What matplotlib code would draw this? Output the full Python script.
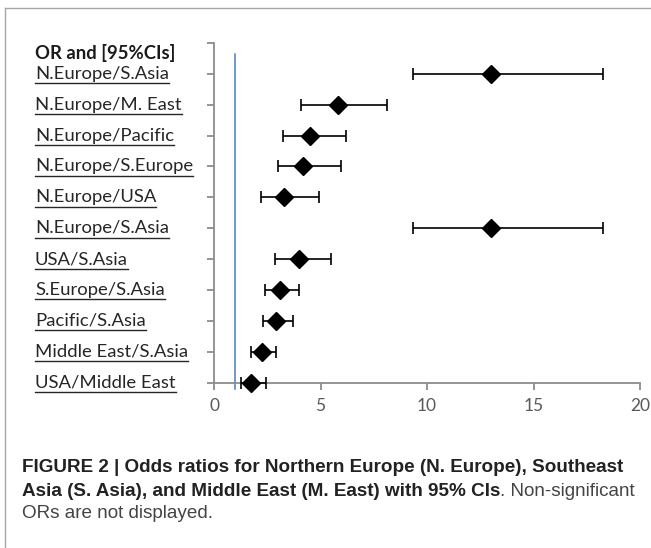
import matplotlib.pyplot as plt
from matplotlib.lines import Line2D

# ------------------------------------------------------------
# data (top to bottom)
# ------------------------------------------------------------
labels = ["N.Europe/S.Asia", "N.Europe/M. East", "N.Europe/Pacific",
          "N.Europe/S.Europe", "N.Europe/USA", "N.Europe/S.Asia",
          "USA/S.Asia", "S.Europe/S.Asia", "Pacific/S.Asia",
          "Middle East/S.Asia", "USA/Middle East"]
odds  = [13.0, 5.8, 4.5, 4.2, 3.3, 13.0, 4.0, 3.1, 2.9, 2.25, 1.75]
lower = [9.35, 4.1, 3.25, 3.0, 2.2, 9.35, 2.85, 2.4, 2.3, 1.75, 1.25]
upper = [18.25, 8.1, 6.2, 5.95, 4.95, 18.25, 5.5, 4.0, 3.7, 2.9, 2.45]
header = "OR and [95%CIs]"
xticks = [0, 5, 10, 15, 20]
ref_x = 1.0
ref_y = [-0.2, 10.65]

n = len(labels)
ypos = [n - 1 - i for i in range(n)]

W, H = 651, 548
fig = plt.figure(figsize=(W / 100, H / 100), dpi=100)

# outer frame (top and left edges)
fig.add_artist(Line2D([5 / W, 1], [1 - 8 / H, 1 - 8 / H], color="#a6a6a6", lw=1))
fig.add_artist(Line2D([5 / W, 5 / W], [0, 1 - 8 / H], color="#a6a6a6", lw=1))

ax = fig.add_axes([214 / W, 1 - 382.5 / H, (640 - 214) / W, (382.5 - 43) / H])
ax.set_xlim(0, 20)
ax.set_ylim(0, n)

ax.plot([ref_x, ref_x], ref_y, color="#4a7ebb", lw=1.1, clip_on=False)

err = [[o - l for o, l in zip(odds, lower)], [u - o for o, u in zip(odds, upper)]]
ax.errorbar(odds, ypos, xerr=err, fmt="D", color="black", ms=9,
            ecolor="black", elinewidth=1.2, capsize=4.5, capthick=1.2,
            clip_on=False, zorder=3)

gray = "#8c8c8c"
for s in ["top", "right"]:
    ax.spines[s].set_visible(False)
for s in ["left", "bottom"]:
    ax.spines[s].set_color(gray)
    ax.spines[s].set_linewidth(1.3)
ax.set_yticks(range(n + 1))
ax.set_yticklabels([])
ax.set_xticks(xticks)
ax.set_xticklabels([str(t) for t in xticks], fontsize=12.5, color="#595959",
                   family="Lato")
ax.tick_params(axis="both", direction="out", length=5, width=1.3, color=gray)
ax.tick_params(axis="x", pad=6)

# spreadsheet-like label column with underlines
fig.canvas.draw()
rend = fig.canvas.get_renderer()
fs = 13.3
fig.text(35 / W, 1 - 53 / H, header, fontsize=fs, fontweight="bold",
         family="Lato", color="#1a1a1a", va="center", ha="left")
for lab, y in zip(labels, ypos):
    py = ax.transData.transform((0, y))[1]
    t = fig.text(35 / W, py / H, lab, fontsize=fs, family="Lato",
                 color="#262626", va="center", ha="left")
    bb = t.get_window_extent(rend)
    uy = (py - 9.5) / H
    fig.add_artist(Line2D([bb.x0 / W, bb.x1 / W], [uy, uy], color="#262626", lw=1))

# caption
cs = 13.6
fig.text(22 / W, 1 - 467 / H,
         "FIGURE 2 | Odds ratios for Northern Europe (N. Europe), Southeast",
         fontweight="bold", va="center", family="Liberation Sans",
         fontsize=cs, color="#222222")
t2 = fig.text(22 / W, 1 - 491 / H,
              "Asia (S. Asia), and Middle East (M. East) with 95% CIs",
              fontweight="bold", va="center", family="Liberation Sans",
              fontsize=cs, color="#222222")
bb2 = t2.get_window_extent(rend)
fig.text(bb2.x1 / W, 1 - 491 / H, ". Non-significant", va="center",
         color="#444444", family="Liberation Sans", fontsize=cs)
fig.text(22 / W, 1 - 514 / H, "ORs are not displayed.", va="center",
         color="#444444", family="Liberation Sans", fontsize=cs)

fig.savefig("out.png", dpi=100)
